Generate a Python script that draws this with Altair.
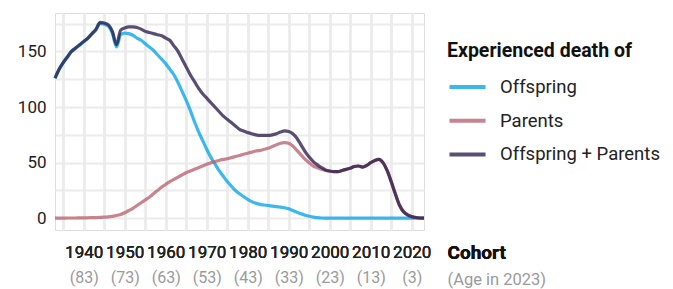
import altair as alt
import pandas as pd

years = list(range(1933, 2024))

combined = [126, 134, 140, 145, 150, 153, 156, 159, 162, 166,
            170, 176, 175.5, 174, 168, 156, 169, 171, 172, 172,
            171.5, 170, 168, 167, 166, 165, 164, 162, 160, 155,
            150, 143, 136, 129, 123, 117, 112, 108, 104, 100,
            96, 92, 89, 86, 83, 80, 78.5, 77, 76, 75,
            74.5, 74.5, 74.5, 75, 76, 77.5, 78.5, 78, 76, 72,
            66, 60, 55, 51, 48, 45.5, 43.5, 42.5, 42, 42,
            43, 44, 45, 46.5, 47, 46, 47.5, 50, 52, 53,
            50, 43, 33, 22, 12, 6, 3, 1.5, 0.7, 0.3,
            0.1]

parents = [0.2, 0.2, 0.2, 0.3, 0.3, 0.3, 0.4, 0.4, 0.5, 0.6,
           0.7, 0.8, 1, 1.3, 1.8, 2.5, 3.5, 5, 7, 9,
           11.5, 14, 16.5, 19, 22, 25, 28, 30.5, 33, 35,
           37, 39, 41, 42.5, 44, 45.5, 47, 48.5, 50, 51,
           52, 53, 53.5, 54.5, 55.5, 56.5, 57.5, 58.5, 59.5, 60.5,
           61, 62, 63, 64.5, 66, 67.5, 68, 67.5, 65, 61,
           57, 53, 50, 47, 45.5, 44, 43, 42.3, 42, 42,
           43, 44, 45, 46.5, 47, 46, 47.5, 50, 52, 53,
           50, 43, 33, 22, 12, 6, 3, 1.5, 0.7, 0.3,
           0.1]

offspring = [125.8, 133.8, 139.8, 144.7, 149.7, 152.7, 155.6, 158.6, 161.5, 165.4,
             169.3, 175.2, 174.5, 172.7, 166.2, 154, 165, 166.5, 166, 164.5,
             162, 160, 157, 154, 151, 147, 143, 139, 134, 129,
             122, 114, 106, 97, 87, 78, 70, 62, 55, 49,
             43, 38, 33, 29, 25, 22, 19.5, 17, 15, 13.5,
             12.5, 12, 11.5, 11, 10.5, 10, 9.5, 8.5, 7, 5.5,
             4, 2.8, 1.8, 1, 0.6, 0.3, 0.2, 0.1, 0.1, 0.1,
             0.1, 0.1, 0.1, 0.1, 0.1, 0.1, 0.1, 0.1, 0.1, 0.1,
             0.1, 0.1, 0.1, 0.1, 0.1, 0.1, 0.1, 0.1, 0.1, 0.1,
             0.1]

series_names = ["Offspring", "Parents", "Offspring + Parents"]
series_colors = ["#06a4e9", "#b8616f", "#2b1e4c"]
x_ticks = list(range(1935, 2021, 5))
y_ticks = [0, 25, 50, 75, 100, 125, 150, 175]

rows = []
for name, vals in zip(series_names, [offspring, parents, combined]):
    for yr, v in zip(years, vals):
        rows.append({"year": yr, "value": v, "series": name})
df = pd.DataFrame(rows)

FONT = "Roboto"
ALPHA = 0.78

x_scale = alt.Scale(domain=[1933, 2023], nice=False, zero=False)
y_scale = alt.Scale(domain=[-10.5, 184.5], nice=False, zero=False)

color = alt.Color(
    "series:N",
    scale=alt.Scale(domain=series_names, range=series_colors),
    legend=alt.Legend(
        title="Experienced death of",
        orient="none",
        legendX=392,
        legendY=29,
        symbolType="stroke",
        symbolSize=1300,
        symbolStrokeWidth=4,
        symbolOpacity=ALPHA,
        labelFontSize=18.5,
        labelColor="#222222",
        labelLimit=400,
        titleLimit=400,
        titleFontSize=19.5,
        titleFontWeight="bold",
        titleColor="#111111",
        titlePadding=5,
        labelOffset=12,
        rowPadding=3.7,
        labelFont=FONT,
        titleFont=FONT,
    ),
)

x_main = alt.X(
    "year:Q",
    scale=x_scale,
    axis=alt.Axis(
        values=x_ticks,
        format="d",
        labelExpr="datum.value % 10 == 0 ? datum.label : ''",
        labelFontSize=17,
        labelColor="#222222",
        labelPadding=14,
        ticks=False,
        domain=False,
        grid=True,
        gridColor="#ebebeb",
        gridWidth=2,
        title="Cohort",
        titleFontSize=19,
        titleFontWeight="bold",
        titleColor="#111111",
        titleX=392,
        titleY=28.5,
        titleAlign="left",
        titleBaseline="alphabetic",
        orient="bottom",
    ),
)

y_enc = alt.Y(
    "value:Q",
    scale=y_scale,
    axis=alt.Axis(
        values=y_ticks,
        labelExpr="datum.value % 50 == 0 ? datum.label : ''",
        labelFontSize=17,
        labelColor="#222222",
        labelPadding=9,
        ticks=False,
        domain=False,
        grid=True,
        gridColor="#ebebeb",
        gridWidth=2,
        title=None,
    ),
)

layers = []
for name in series_names:
    layers.append(
        alt.Chart(df)
        .transform_filter(alt.datum.series == name)
        .mark_line(strokeWidth=3.2, opacity=ALPHA, interpolate="monotone")
        .encode(x=x_main, y=y_enc, color=color)
    )

age_axis_layer = (
    alt.Chart(df)
    .transform_filter(alt.datum.series == "Offspring")
    .mark_line(strokeOpacity=0)
    .encode(
        x=alt.X(
            "year:Q",
            scale=x_scale,
            axis=alt.Axis(
                values=x_ticks,
                labelExpr="datum.value % 10 == 0 ? '(' + (2023 - datum.value) + ')' : ''",
                labelFontSize=16,
                labelColor="#9a9a9a",
                labelPadding=39,
                ticks=False,
                domain=False,
                grid=False,
                title="(Age in 2023)",
                titleFontSize=16.5,
                titleFontWeight="normal",
                titleColor="#9a9a9a",
                titleX=392,
                titleY=54,
                titleAlign="left",
                titleBaseline="alphabetic",
                orient="bottom",
            ),
        ),
        y=y_enc,
    )
)

chart = (
    alt.layer(*layers, age_axis_layer)
    .resolve_axis(x="independent")
    .properties(
        width=369,
        height=217,
        autosize=alt.AutoSizeParams(type="none"),
        padding={"left": 47, "top": 5, "right": 241, "bottom": 59},
    )
    .configure_view(stroke=None)
    .configure(font=FONT)
)

chart.save("out.html", embed_options={"renderer": "svg", "actions": False})
